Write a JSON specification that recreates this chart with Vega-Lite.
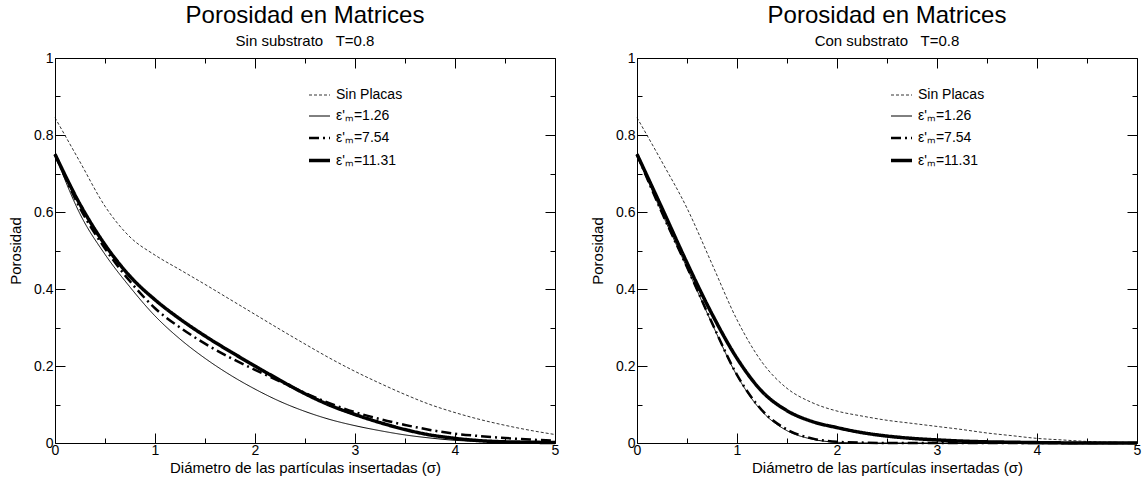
{
  "$schema": "https://vega.github.io/schema/vega-lite/v6.json",
  "background": "white",
  "padding": {"left": 8, "top": 4, "right": 5, "bottom": 5},
  "config": {
    "font": "Liberation Sans",
    "view": {"stroke": null},
    "axis": {"grid": false, "domainColor": "black", "tickColor": "black", "labelColor": "black", "titleColor": "black", "labelFont": "Liberation Sans", "titleFont": "Liberation Sans", "labelFontSize": 14, "titleFontSize": 15, "titleFontWeight": "normal", "domainWidth": 1, "tickWidth": 1, "labelFlush": false, "labelOverlap": false},
    "title": {"font": "Liberation Sans", "fontSize": 24, "fontWeight": "normal", "subtitleFont": "Liberation Sans", "subtitleFontSize": 15, "color": "black", "subtitleColor": "black", "anchor": "middle", "offset": 2, "subtitlePadding": 6},
    "legend": {"symbolType": "stroke", "symbolSize": 441, "symbolStrokeColor": "black", "labelFont": "Liberation Sans", "labelFontSize": 14, "labelColor": "black", "rowPadding": 3, "labelOffset": 4, "padding": 0}
  },
  "datasets": {
    "d": [
      {"p":"L","s":"Sin Placas","x":0,"y":0.845},{"p":"L","s":"Sin Placas","x":0.25,"y":0.73},{"p":"L","s":"Sin Placas","x":0.5,"y":0.615},{"p":"L","s":"Sin Placas","x":0.75,"y":0.535},{"p":"L","s":"Sin Placas","x":1,"y":0.488},{"p":"L","s":"Sin Placas","x":1.25,"y":0.45},{"p":"L","s":"Sin Placas","x":1.5,"y":0.412},{"p":"L","s":"Sin Placas","x":1.75,"y":0.373},{"p":"L","s":"Sin Placas","x":2,"y":0.334},{"p":"L","s":"Sin Placas","x":2.25,"y":0.295},{"p":"L","s":"Sin Placas","x":2.5,"y":0.257},{"p":"L","s":"Sin Placas","x":2.75,"y":0.22},{"p":"L","s":"Sin Placas","x":3,"y":0.186},{"p":"L","s":"Sin Placas","x":3.25,"y":0.155},{"p":"L","s":"Sin Placas","x":3.5,"y":0.126},{"p":"L","s":"Sin Placas","x":3.75,"y":0.1},{"p":"L","s":"Sin Placas","x":4,"y":0.079},{"p":"L","s":"Sin Placas","x":4.25,"y":0.061},{"p":"L","s":"Sin Placas","x":4.5,"y":0.046},{"p":"L","s":"Sin Placas","x":4.75,"y":0.033},{"p":"L","s":"Sin Placas","x":5,"y":0.022},
      {"p":"L","s":"ε'ₘ=1.26","x":0,"y":0.75},{"p":"L","s":"ε'ₘ=1.26","x":0.25,"y":0.595},{"p":"L","s":"ε'ₘ=1.26","x":0.5,"y":0.49},{"p":"L","s":"ε'ₘ=1.26","x":0.75,"y":0.405},{"p":"L","s":"ε'ₘ=1.26","x":1,"y":0.33},{"p":"L","s":"ε'ₘ=1.26","x":1.25,"y":0.27},{"p":"L","s":"ε'ₘ=1.26","x":1.5,"y":0.22},{"p":"L","s":"ε'ₘ=1.26","x":1.75,"y":0.177},{"p":"L","s":"ε'ₘ=1.26","x":2,"y":0.14},{"p":"L","s":"ε'ₘ=1.26","x":2.25,"y":0.108},{"p":"L","s":"ε'ₘ=1.26","x":2.5,"y":0.082},{"p":"L","s":"ε'ₘ=1.26","x":2.75,"y":0.061},{"p":"L","s":"ε'ₘ=1.26","x":3,"y":0.045},{"p":"L","s":"ε'ₘ=1.26","x":3.25,"y":0.032},{"p":"L","s":"ε'ₘ=1.26","x":3.5,"y":0.021},{"p":"L","s":"ε'ₘ=1.26","x":3.75,"y":0.013},{"p":"L","s":"ε'ₘ=1.26","x":4,"y":0.007},{"p":"L","s":"ε'ₘ=1.26","x":4.25,"y":0.004},{"p":"L","s":"ε'ₘ=1.26","x":4.5,"y":0.002},{"p":"L","s":"ε'ₘ=1.26","x":4.75,"y":0.001},{"p":"L","s":"ε'ₘ=1.26","x":5,"y":0},
      {"p":"L","s":"ε'ₘ=7.54","x":0,"y":0.75},{"p":"L","s":"ε'ₘ=7.54","x":0.25,"y":0.61},{"p":"L","s":"ε'ₘ=7.54","x":0.5,"y":0.505},{"p":"L","s":"ε'ₘ=7.54","x":0.75,"y":0.42},{"p":"L","s":"ε'ₘ=7.54","x":1,"y":0.35},{"p":"L","s":"ε'ₘ=7.54","x":1.25,"y":0.3},{"p":"L","s":"ε'ₘ=7.54","x":1.5,"y":0.258},{"p":"L","s":"ε'ₘ=7.54","x":1.75,"y":0.222},{"p":"L","s":"ε'ₘ=7.54","x":2,"y":0.19},{"p":"L","s":"ε'ₘ=7.54","x":2.25,"y":0.16},{"p":"L","s":"ε'ₘ=7.54","x":2.5,"y":0.13},{"p":"L","s":"ε'ₘ=7.54","x":2.75,"y":0.103},{"p":"L","s":"ε'ₘ=7.54","x":3,"y":0.08},{"p":"L","s":"ε'ₘ=7.54","x":3.25,"y":0.062},{"p":"L","s":"ε'ₘ=7.54","x":3.5,"y":0.047},{"p":"L","s":"ε'ₘ=7.54","x":3.75,"y":0.034},{"p":"L","s":"ε'ₘ=7.54","x":4,"y":0.024},{"p":"L","s":"ε'ₘ=7.54","x":4.25,"y":0.018},{"p":"L","s":"ε'ₘ=7.54","x":4.5,"y":0.013},{"p":"L","s":"ε'ₘ=7.54","x":4.75,"y":0.009},{"p":"L","s":"ε'ₘ=7.54","x":5,"y":0.006},
      {"p":"L","s":"ε'ₘ=11.31","x":0,"y":0.75},{"p":"L","s":"ε'ₘ=11.31","x":0.25,"y":0.62},{"p":"L","s":"ε'ₘ=11.31","x":0.5,"y":0.515},{"p":"L","s":"ε'ₘ=11.31","x":0.75,"y":0.433},{"p":"L","s":"ε'ₘ=11.31","x":1,"y":0.372},{"p":"L","s":"ε'ₘ=11.31","x":1.25,"y":0.322},{"p":"L","s":"ε'ₘ=11.31","x":1.5,"y":0.278},{"p":"L","s":"ε'ₘ=11.31","x":1.75,"y":0.238},{"p":"L","s":"ε'ₘ=11.31","x":2,"y":0.2},{"p":"L","s":"ε'ₘ=11.31","x":2.25,"y":0.163},{"p":"L","s":"ε'ₘ=11.31","x":2.5,"y":0.128},{"p":"L","s":"ε'ₘ=11.31","x":2.75,"y":0.098},{"p":"L","s":"ε'ₘ=11.31","x":3,"y":0.074},{"p":"L","s":"ε'ₘ=11.31","x":3.25,"y":0.053},{"p":"L","s":"ε'ₘ=11.31","x":3.5,"y":0.035},{"p":"L","s":"ε'ₘ=11.31","x":3.75,"y":0.021},{"p":"L","s":"ε'ₘ=11.31","x":4,"y":0.012},{"p":"L","s":"ε'ₘ=11.31","x":4.25,"y":0.006},{"p":"L","s":"ε'ₘ=11.31","x":4.5,"y":0.003},{"p":"L","s":"ε'ₘ=11.31","x":4.75,"y":0.002},{"p":"L","s":"ε'ₘ=11.31","x":5,"y":0.001},
      {"p":"R","s":"Sin Placas","x":0,"y":0.845},{"p":"R","s":"Sin Placas","x":0.25,"y":0.73},{"p":"R","s":"Sin Placas","x":0.5,"y":0.61},{"p":"R","s":"Sin Placas","x":0.75,"y":0.465},{"p":"R","s":"Sin Placas","x":1,"y":0.32},{"p":"R","s":"Sin Placas","x":1.25,"y":0.21},{"p":"R","s":"Sin Placas","x":1.5,"y":0.142},{"p":"R","s":"Sin Placas","x":1.75,"y":0.105},{"p":"R","s":"Sin Placas","x":2,"y":0.083},{"p":"R","s":"Sin Placas","x":2.25,"y":0.07},{"p":"R","s":"Sin Placas","x":2.5,"y":0.059},{"p":"R","s":"Sin Placas","x":2.75,"y":0.051},{"p":"R","s":"Sin Placas","x":3,"y":0.043},{"p":"R","s":"Sin Placas","x":3.25,"y":0.035},{"p":"R","s":"Sin Placas","x":3.5,"y":0.026},{"p":"R","s":"Sin Placas","x":3.75,"y":0.019},{"p":"R","s":"Sin Placas","x":4,"y":0.012},{"p":"R","s":"Sin Placas","x":4.25,"y":0.008},{"p":"R","s":"Sin Placas","x":4.5,"y":0.004},{"p":"R","s":"Sin Placas","x":4.75,"y":0.002},{"p":"R","s":"Sin Placas","x":5,"y":0.001},
      {"p":"R","s":"ε'ₘ=1.26","x":0,"y":0.75},{"p":"R","s":"ε'ₘ=1.26","x":0.25,"y":0.597},{"p":"R","s":"ε'ₘ=1.26","x":0.5,"y":0.455},{"p":"R","s":"ε'ₘ=1.26","x":0.75,"y":0.31},{"p":"R","s":"ε'ₘ=1.26","x":1,"y":0.175},{"p":"R","s":"ε'ₘ=1.26","x":1.25,"y":0.082},{"p":"R","s":"ε'ₘ=1.26","x":1.5,"y":0.032},{"p":"R","s":"ε'ₘ=1.26","x":1.75,"y":0.01},{"p":"R","s":"ε'ₘ=1.26","x":2,"y":0.002},{"p":"R","s":"ε'ₘ=1.26","x":2.25,"y":0},{"p":"R","s":"ε'ₘ=1.26","x":2.5,"y":0},{"p":"R","s":"ε'ₘ=1.26","x":3,"y":0},{"p":"R","s":"ε'ₘ=1.26","x":3.5,"y":0},{"p":"R","s":"ε'ₘ=1.26","x":4,"y":0},{"p":"R","s":"ε'ₘ=1.26","x":4.5,"y":0},{"p":"R","s":"ε'ₘ=1.26","x":5,"y":0},
      {"p":"R","s":"ε'ₘ=7.54","x":0,"y":0.75},{"p":"R","s":"ε'ₘ=7.54","x":0.25,"y":0.598},{"p":"R","s":"ε'ₘ=7.54","x":0.5,"y":0.457},{"p":"R","s":"ε'ₘ=7.54","x":0.75,"y":0.312},{"p":"R","s":"ε'ₘ=7.54","x":1,"y":0.177},{"p":"R","s":"ε'ₘ=7.54","x":1.25,"y":0.085},{"p":"R","s":"ε'ₘ=7.54","x":1.5,"y":0.035},{"p":"R","s":"ε'ₘ=7.54","x":1.75,"y":0.012},{"p":"R","s":"ε'ₘ=7.54","x":2,"y":0.003},{"p":"R","s":"ε'ₘ=7.54","x":2.25,"y":0.001},{"p":"R","s":"ε'ₘ=7.54","x":2.5,"y":0},{"p":"R","s":"ε'ₘ=7.54","x":3,"y":0},{"p":"R","s":"ε'ₘ=7.54","x":3.5,"y":0},{"p":"R","s":"ε'ₘ=7.54","x":4,"y":0},{"p":"R","s":"ε'ₘ=7.54","x":4.5,"y":0},{"p":"R","s":"ε'ₘ=7.54","x":5,"y":0},
      {"p":"R","s":"ε'ₘ=11.31","x":0,"y":0.75},{"p":"R","s":"ε'ₘ=11.31","x":0.25,"y":0.61},{"p":"R","s":"ε'ₘ=11.31","x":0.5,"y":0.468},{"p":"R","s":"ε'ₘ=11.31","x":0.75,"y":0.335},{"p":"R","s":"ε'ₘ=11.31","x":1,"y":0.22},{"p":"R","s":"ε'ₘ=11.31","x":1.25,"y":0.134},{"p":"R","s":"ε'ₘ=11.31","x":1.5,"y":0.084},{"p":"R","s":"ε'ₘ=11.31","x":1.75,"y":0.056},{"p":"R","s":"ε'ₘ=11.31","x":2,"y":0.04},{"p":"R","s":"ε'ₘ=11.31","x":2.25,"y":0.027},{"p":"R","s":"ε'ₘ=11.31","x":2.5,"y":0.018},{"p":"R","s":"ε'ₘ=11.31","x":2.75,"y":0.012},{"p":"R","s":"ε'ₘ=11.31","x":3,"y":0.008},{"p":"R","s":"ε'ₘ=11.31","x":3.25,"y":0.005},{"p":"R","s":"ε'ₘ=11.31","x":3.5,"y":0.003},{"p":"R","s":"ε'ₘ=11.31","x":3.75,"y":0.002},{"p":"R","s":"ε'ₘ=11.31","x":4,"y":0.001},{"p":"R","s":"ε'ₘ=11.31","x":4.5,"y":0},{"p":"R","s":"ε'ₘ=11.31","x":5,"y":0}
    ]
  },
  "spacing": 82,
  "bounds": "flush",
  "resolve": {"scale": {"strokeDash": "independent", "strokeWidth": "independent"}, "legend": {"strokeDash": "independent", "strokeWidth": "independent"}},
  "hconcat": [
    {
      "width": 500, "height": 385,
      "title": {"text": "Porosidad en Matrices", "subtitle": "Sin substrato\u00a0\u00a0\u00a0T=0.8"},
      "data": {"name": "d"},
      "transform": [{"filter": "datum.p == 'L'"}],
      "resolve": {"axis": {"x": "independent", "y": "independent"}},
      "layer": [
        {
          "mark": {"type": "line", "color": "black", "interpolate": "monotone"},
          "encoding": {
            "x": {"field": "x", "type": "quantitative", "scale": {"domain": [0, 5], "nice": false},
              "axis": {"orient": "bottom", "values": [0,0.5,1,1.5,2,2.5,3,3.5,4,4.5,5], "format": "~g", "title": "Diámetro de las partículas insertadas (σ)", "labelExpr": "datum.value % 1 === 0 ? datum.label : ''", "tickSize": {"condition": {"test": "datum.value % 1 === 0", "value": -10}, "value": -5}, "labelPadding": 10, "titlePadding": -2}},
            "y": {"field": "y", "type": "quantitative", "scale": {"domain": [0, 1], "nice": false},
              "axis": {"orient": "left", "values": [0,0.1,0.2,0.3,0.4,0.5,0.6,0.7,0.8,0.9,1], "format": "~g", "title": "Porosidad", "labelExpr": "round(datum.value*10) % 2 === 0 ? datum.label : ''", "tickSize": {"condition": {"test": "round(datum.value*10) % 2 === 0", "value": -10}, "value": -5}, "labelPadding": 12, "titlePadding": 10}},
            "strokeDash": {"field": "s", "type": "nominal", "scale": {"domain": ["Sin Placas", "ε'ₘ=1.26", "ε'ₘ=7.54", "ε'ₘ=11.31"], "range": [[3, 2], [1, 0], [10, 4, 2, 4], [1, 0]]}, "legend": {"orient": "none", "legendX": 252, "legendY": 26, "title": null}},
            "strokeWidth": {"field": "s", "type": "nominal", "scale": {"type": "ordinal", "domain": ["Sin Placas", "ε'ₘ=1.26", "ε'ₘ=7.54", "ε'ₘ=11.31"], "range": [0.8, 1, 2.5, 3.5]}, "legend": {"orient": "none", "legendX": 252, "legendY": 26, "title": null}}
          }
        },
        {
          "mark": {"type": "line", "opacity": 0},
          "encoding": {
            "x": {"field": "x", "type": "quantitative", "axis": {"orient": "top", "values": [0,0.5,1,1.5,2,2.5,3,3.5,4,4.5,5], "labels": false, "title": null, "tickSize": {"condition": {"test": "datum.value % 1 === 0", "value": -10}, "value": -5}}},
            "y": {"field": "y", "type": "quantitative", "axis": {"orient": "right", "values": [0,0.1,0.2,0.3,0.4,0.5,0.6,0.7,0.8,0.9,1], "labels": false, "title": null, "tickSize": {"condition": {"test": "round(datum.value*10) % 2 === 0", "value": -10}, "value": -5}}},
            "detail": {"field": "s"}
          }
        }
      ]
    },
    {
      "width": 500, "height": 385,
      "title": {"text": "Porosidad en Matrices", "subtitle": "Con substrato\u00a0\u00a0\u00a0T=0.8"},
      "data": {"name": "d"},
      "transform": [{"filter": "datum.p == 'R'"}],
      "resolve": {"axis": {"x": "independent", "y": "independent"}},
      "layer": [
        {
          "mark": {"type": "line", "color": "black", "interpolate": "monotone"},
          "encoding": {
            "x": {"field": "x", "type": "quantitative", "scale": {"domain": [0, 5], "nice": false},
              "axis": {"orient": "bottom", "values": [0,0.5,1,1.5,2,2.5,3,3.5,4,4.5,5], "format": "~g", "title": "Diámetro de las partículas insertadas (σ)", "labelExpr": "datum.value % 1 === 0 ? datum.label : ''", "tickSize": {"condition": {"test": "datum.value % 1 === 0", "value": -10}, "value": -5}, "labelPadding": 10, "titlePadding": -2}},
            "y": {"field": "y", "type": "quantitative", "scale": {"domain": [0, 1], "nice": false},
              "axis": {"orient": "left", "values": [0,0.1,0.2,0.3,0.4,0.5,0.6,0.7,0.8,0.9,1], "format": "~g", "title": "Porosidad", "labelExpr": "round(datum.value*10) % 2 === 0 ? datum.label : ''", "tickSize": {"condition": {"test": "round(datum.value*10) % 2 === 0", "value": -10}, "value": -5}, "labelPadding": 12, "titlePadding": 10}},
            "strokeDash": {"field": "s", "type": "nominal", "scale": {"domain": ["Sin Placas", "ε'ₘ=1.26", "ε'ₘ=7.54", "ε'ₘ=11.31"], "range": [[3, 2], [1, 0], [10, 4, 2, 4], [1, 0]]}, "legend": {"orient": "none", "legendX": 252, "legendY": 26, "title": null}},
            "strokeWidth": {"field": "s", "type": "nominal", "scale": {"type": "ordinal", "domain": ["Sin Placas", "ε'ₘ=1.26", "ε'ₘ=7.54", "ε'ₘ=11.31"], "range": [0.8, 1, 2.5, 3.5]}, "legend": {"orient": "none", "legendX": 252, "legendY": 26, "title": null}}
          }
        },
        {
          "mark": {"type": "line", "opacity": 0},
          "encoding": {
            "x": {"field": "x", "type": "quantitative", "axis": {"orient": "top", "values": [0,0.5,1,1.5,2,2.5,3,3.5,4,4.5,5], "labels": false, "title": null, "tickSize": {"condition": {"test": "datum.value % 1 === 0", "value": -10}, "value": -5}}},
            "y": {"field": "y", "type": "quantitative", "axis": {"orient": "right", "values": [0,0.1,0.2,0.3,0.4,0.5,0.6,0.7,0.8,0.9,1], "labels": false, "title": null, "tickSize": {"condition": {"test": "round(datum.value*10) % 2 === 0", "value": -10}, "value": -5}}},
            "detail": {"field": "s"}
          }
        }
      ]
    }
  ]
}
